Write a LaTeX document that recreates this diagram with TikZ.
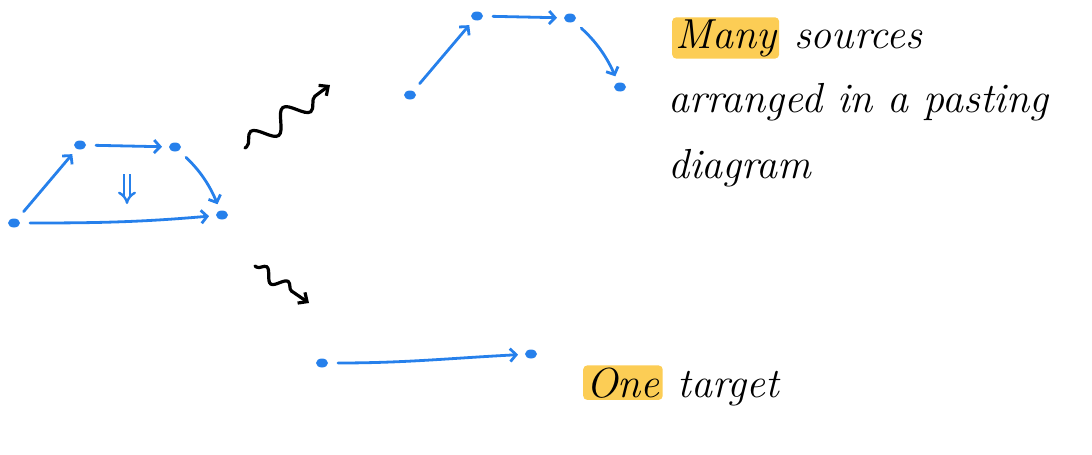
\documentclass[tikz,border=0pt]{standalone}
\usepackage{fontspec}
\usepackage{tikz}
\usepackage{tkz-graph}
\usetikzlibrary{arrows.meta,decorations.pathmorphing,positioning,shapes.geometric}

\definecolor{penblue}{RGB}{38,128,235}
\definecolor{hlyellow}{RGB}{252,205,85}

\begin{document}
\begin{tikzpicture}[x=1pt,y=-1pt,
    txt/.style={font=\fontsize{42}{50}\selectfont\itshape,inner sep=0pt,anchor=base west},
    hilite/.style={txt,fill=hlyellow,inner xsep=3pt,inner ysep=2pt,rounded corners=4pt},
    cell/.style={draw=penblue,line width=2.4pt,double=white,double distance=3.5pt,-Implies},
    squiggle/.style={line width=3.2pt,line cap=round,decorate,
      decoration={snake,segment length=40pt,amplitude=10pt,pre length=2pt,post length=9pt},
      -{Straight Barb[length=7pt,width=13pt]}}]
  \useasboundingbox (0,0) rectangle (1092,455);
  \GraphInit[vstyle=Empty]
  \tikzset{VertexStyle/.style={shape=ellipse,fill=penblue,inner sep=0pt,minimum width=12pt,minimum height=9pt}}
  \tikzset{EdgeStyle/.style={draw=penblue,line width=2.8pt,line cap=round,
      -{Straight Barb[length=6pt,width=13pt]},shorten <=10pt,shorten >=7pt}}
  % the pasting diagram
  \Vertex[x=14,y=223,NoLabel]{a}
  \Vertex[x=80,y=145,NoLabel]{b}
  \Vertex[x=175,y=147,NoLabel]{c}
  \Vertex[x=222,y=215,NoLabel]{d}
  \Edges(a,b,c)
  \Edge[style={bend left=12}](c)(d)
  \Edge[style={out=0,in=185,shorten >=10pt}](a)(d)
  \coordinate (celltop) at (127,174);
  \coordinate (cellbot) at (127,204);
  \draw[cell] (celltop) -- (cellbot);
  % many sources
  \Vertex[x=410,y=95,NoLabel]{e}
  \Vertex[x=477,y=16,NoLabel]{f}
  \Vertex[x=570,y=18,NoLabel]{g}
  \Vertex[x=620,y=87,NoLabel]{h}
  \Edges(e,f,g)
  \Edge[style={bend left=12}](g)(h)
  % one target
  \Vertex[x=322,y=363,NoLabel]{p}
  \Vertex[x=531,y=354,NoLabel]{q}
  \Edge[style={out=0,in=183,shorten <=16pt,shorten >=10pt}](p)(q)
  % squiggly maps
  \coordinate (upfrom) at (245,148);
  \coordinate (upto) at (330,85);
  \draw[squiggle] (upfrom) -- (upto);
  \coordinate (downfrom) at (255,266);
  \coordinate (downto) at (309,303);
  \draw[squiggle,decoration={segment length=26pt,amplitude=6pt}] (downfrom) -- (downto);
  % texts
  \node[hilite] (many) at (672,48) {Many};
  \node[txt] (sources) at (many.base east) {\ sources};
  \node[txt] (arranged) at (668,112) {arranged in a pasting};
  \node[txt] (diagram) at (668,178) {diagram};
  \node[hilite] (one) at (583,397) {One};
  \node[txt] (target) at (one.base east) {\ target};
\end{tikzpicture}
\end{document}
